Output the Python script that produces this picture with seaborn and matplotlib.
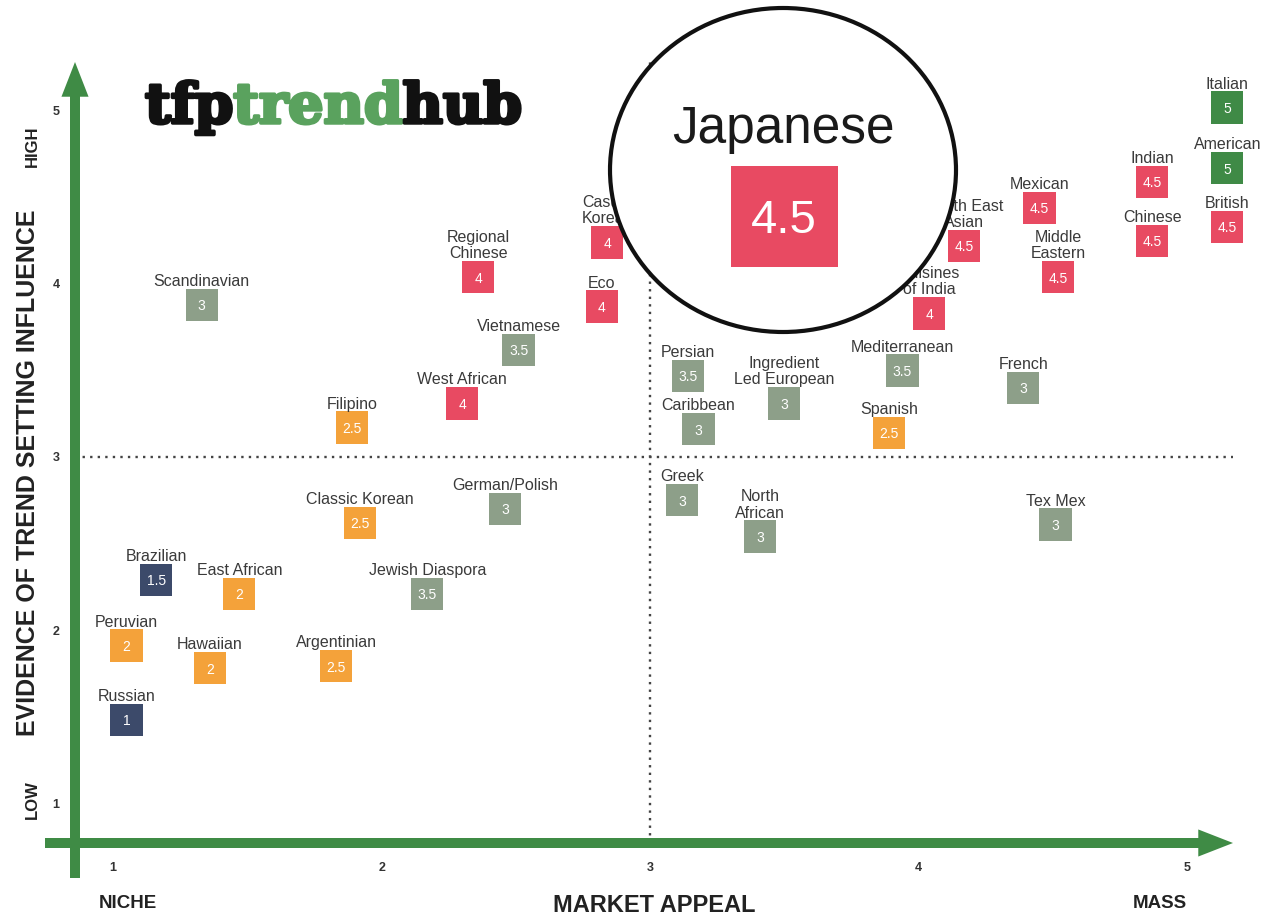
import matplotlib
matplotlib.use("Agg")
import matplotlib.pyplot as plt
import matplotlib.patheffects as pe
import pandas as pd
import seaborn as sns
from matplotlib.patches import Ellipse, Rectangle, FancyArrowPatch, ArrowStyle

# ---- data -------------------------------------------------------------
cuisines = [
    "Italian", "American", "British", "Indian", "Chinese", "Mexican",
    "Middle\nEastern", "South East\nAsian", "Cuisines\nof India",
    "Casual\nKorean", "Eco", "Regional\nChinese", "Scandinavian",
    "Vietnamese", "West African", "Filipino", "Classic Korean",
    "German/Polish", "Brazilian", "East African", "Jewish Diaspora",
    "Peruvian", "Hawaiian", "Argentinian", "Russian", "Persian",
    "Ingredient\nLed European", "Caribbean", "Mediterranean", "Spanish",
    "French", "Greek", "North\nAfrican", "Tex Mex",
]
market_appeal = [
    5.15, 5.15, 5.15, 4.87, 4.87, 4.45, 4.52, 4.17, 4.04, 2.84, 2.82, 2.36,
    1.33, 2.51, 2.30, 1.89, 1.92, 2.46, 1.16, 1.47, 2.17, 1.05, 1.36, 1.83,
    1.05, 3.14, 3.50, 3.18, 3.94, 3.89, 4.39, 3.12, 3.41, 4.51,
]
trend_influence = [
    5.02, 4.67, 4.33, 4.59, 4.25, 4.44, 4.04, 4.22, 3.83, 4.24, 3.87, 4.04,
    3.88, 3.62, 3.31, 3.17, 2.62, 2.70, 2.29, 2.21, 2.21, 1.91, 1.78, 1.79,
    1.48, 3.47, 3.31, 3.16, 3.50, 3.14, 3.40, 2.75, 2.54, 2.61,
]
scores = [
    5, 5, 4.5, 4.5, 4.5, 4.5, 4.5, 4.5, 4, 4, 4, 4, 3, 3.5, 4, 2.5, 2.5, 3,
    1.5, 2, 3.5, 2, 2, 2.5, 1, 3.5, 3, 3, 3.5, 2.5, 3, 3, 3, 3,
]
highlight_name = "Japanese"
highlight_score = 4.5

axis_ticks = [1, 2, 3, 4, 5]

tier_colors = {
    "top": "#3f8a46",
    "high": "#e84a62",
    "mid": "#8d9f89",
    "rising": "#f4a23a",
    "low": "#3c4a6a",
}
GREEN = "#3f8b45"


def tier(score):
    if score >= 5:
        return "top"
    if score >= 4:
        return "high"
    if score >= 3:
        return "mid"
    if score >= 2:
        return "rising"
    return "low"


df = pd.DataFrame({
    "cuisine": cuisines,
    "appeal": market_appeal,
    "influence": trend_influence,
    "score": scores,
})
df["tier"] = df["score"].map(tier)

# ---- figure -----------------------------------------------------------
sns.set_theme(style="white")
plt.rcParams["font.family"] = ["Liberation Sans", "DejaVu Sans"]

W, H = 1268, 917
fig = plt.figure(figsize=(W / 100, H / 100), dpi=100)
fig.patch.set_facecolor("white")


def fx(px):
    return px / W


def fy(py):
    return 1 - py / H


ax = fig.add_axes([fx(75), fy(843), (1233 - 75) / W, (843 - 62) / H])
ax.set_xlim(0.858, 5.171)
ax.set_ylim(0.769, 5.283)
for s in ax.spines.values():
    s.set_visible(False)
ax.set_facecolor("white")

# quadrant dividers
ax.axvline(3, color="#444444", lw=1.7, ls=(0, (1, 2.2)), zorder=1)
ax.axhline(3, color="#444444", lw=1.7, ls=(0, (1, 2.2)), zorder=1)

# cuisine squares
sns.scatterplot(
    data=df, x="appeal", y="influence", hue="tier", palette=tier_colors,
    marker="s", s=540, linewidth=0, legend=False, ax=ax, zorder=3,
)
for coll in ax.collections:
    coll.set_clip_on(False)

for _, r in df.iterrows():
    ax.text(r["appeal"], r["influence"], f"{r['score']:g}", color="white",
            fontsize=10, ha="center", va="center_baseline", zorder=4,
            clip_on=False)
    ax.annotate(r["cuisine"], (r["appeal"], r["influence"]),
                xytext=(0, 11.5), textcoords="offset points", ha="center",
                va="bottom", fontsize=11.5, color="#3a3a3a",
                linespacing=1.12, zorder=4, annotation_clip=False)

# axes as green arrows
arrow_style = ArrowStyle.Simple(head_length=25, head_width=19.5, tail_width=7.2)
x_arrow = FancyArrowPatch((-30 / 1158, 0), (1.0, 0), transform=ax.transAxes,
                          arrowstyle=arrow_style, mutation_scale=1,
                          color=GREEN, lw=0, shrinkA=0, shrinkB=0,
                          clip_on=False, zorder=5)
y_arrow = FancyArrowPatch((0, -35 / 781), (0, 1.0), transform=ax.transAxes,
                          arrowstyle=arrow_style, mutation_scale=1,
                          color=GREEN, lw=0, shrinkA=0, shrinkB=0,
                          clip_on=False, zorder=5)
ax.add_patch(x_arrow)
ax.add_patch(y_arrow)

ax.set_xticks(axis_ticks)
ax.set_yticks(axis_ticks)
ax.set_xticklabels([str(t) for t in axis_ticks], fontweight="bold",
                   fontsize=9, color="#333333")
ax.set_yticklabels([str(t) for t in axis_ticks], fontweight="bold",
                   fontsize=9, color="#333333")
ax.tick_params(axis="x", length=0, pad=14)
ax.tick_params(axis="y", length=0, pad=11)
ax.set_xlabel("")
ax.set_ylabel("")

# axis titles and end labels
fig.text(fx(654), fy(906), "MARKET APPEAL", ha="center", va="center",
         fontsize=17, fontweight="bold", color="#222222")
fig.text(fx(128), fy(904), "NICHE", ha="center", va="center",
         fontsize=13.5, fontweight="bold", color="#222222")
fig.text(fx(1160), fy(903), "MASS", ha="center", va="center",
         fontsize=13.5, fontweight="bold", color="#222222")
fig.text(fx(28), fy(473), "EVIDENCE OF TREND SETTING INFLUENCE",
         rotation=90, ha="center", va="center", fontsize=18,
         fontweight="bold", color="#222222")
fig.text(fx(32), fy(146), "HIGH", rotation=90, ha="center", va="center",
         fontsize=12, fontweight="bold", color="#222222")
fig.text(fx(32), fy(800), "LOW", rotation=90, ha="center", va="center",
         fontsize=12, fontweight="bold", color="#222222")

# brand wordmark
renderer = fig.canvas.get_renderer()
x_cursor = 145
for part, col in (("tfp", "#111111"), ("trend", "#5aa25e"), ("hub", "#111111")):
    t = fig.text(fx(x_cursor), fy(123), part, ha="left", va="baseline",
                 fontsize=40, fontweight="bold", family="DejaVu Serif",
                 color=col,
                 path_effects=[pe.withStroke(linewidth=2.5, foreground=col)])
    bb = t.get_window_extent(renderer=renderer)
    x_cursor += bb.width

# magnifier callout
lens = Ellipse((fx(783), fy(170)), width=346 / W, height=324 / H,
               transform=fig.transFigure, facecolor="white",
               edgecolor="#111111", linewidth=3, zorder=10)
fig.patches.append(lens)
fig.text(fx(783), fy(130), highlight_name, ha="center", va="center",
         fontsize=37, color="#1a1a1a", zorder=12)
badge = Rectangle((fx(731), fy(267)), 107 / W, 101 / H,
                  transform=fig.transFigure,
                  facecolor=tier_colors[tier(highlight_score)],
                  edgecolor="none", zorder=11)
fig.patches.append(badge)
fig.text(fx(784), fy(216), f"{highlight_score:g}", ha="center",
         va="center_baseline", fontsize=34, color="white", zorder=12)

fig.savefig("out.png", dpi=100, facecolor="white")
